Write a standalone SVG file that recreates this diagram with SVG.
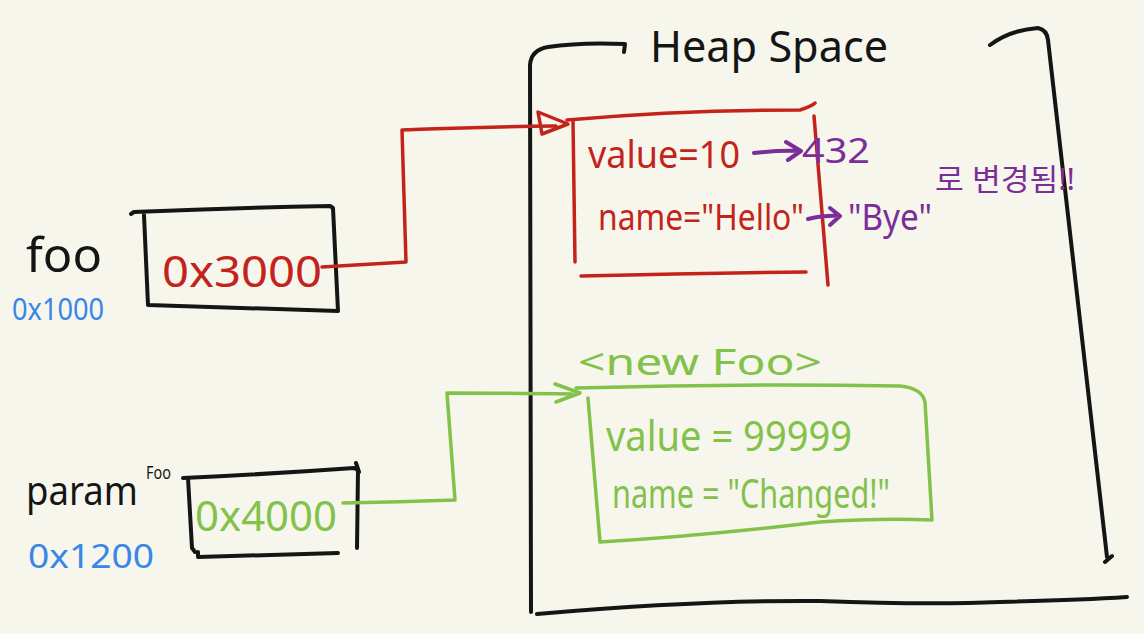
<svg xmlns="http://www.w3.org/2000/svg" width="1144" height="634" viewBox="0 0 1144 634">
<defs>
<style>
.bg{fill:#f7f6ed}
.k{fill:none;stroke:#151515;stroke-width:4;stroke-linecap:round;stroke-linejoin:round}
.r{fill:none;stroke:#c4231b;stroke-width:3.5;stroke-linecap:round;stroke-linejoin:round}
.g{fill:none;stroke:#82c14a;stroke-width:3.5;stroke-linecap:round;stroke-linejoin:round}
.p{fill:none;stroke:#7b2d98;stroke-width:4;stroke-linecap:round;stroke-linejoin:round}
text{font-family:"Noto Sans","Noto Sans CJK KR",sans-serif;font-weight:400}
.tk{fill:#151515}
.tr{fill:#c4231b}
.tg{fill:#82c14a}
.tb{fill:#3a86e8}
.tp{fill:#7b2d98}
</style>
</defs>
<rect class="bg" x="0" y="0" width="1144" height="634"/>

<g id="heap">
<path class="k" d="M531,612 L530,65 Q531,50 548,47 Q580,42 625,44 L624,52"/>
<path class="k" d="M990,45 Q1010,30 1038,28 Q1047,30 1048,40 L1107,557 M1105,562 L1112,556"/>
<path class="k" d="M537,614 Q700,600 820,601 Q930,605 1000,602 Q1080,600 1127,597"/>
<text class="tk" x="650" y="62" font-size="44" textLength="238" lengthAdjust="spacingAndGlyphs">Heap  Space</text>
</g>

<g id="foo">
<text class="tk" x="26" y="272" font-size="48" textLength="76" lengthAdjust="spacingAndGlyphs">foo</text>
<text class="tb" x="12" y="320" font-size="30" textLength="92" lengthAdjust="spacingAndGlyphs">0x1000</text>
<path class="k" d="M131,214 L134,212 Q230,208 330,206 L333,208 L338,311 L148,305 L144,215"/>
<text class="tr" x="162" y="287" font-size="44" textLength="160" lengthAdjust="spacingAndGlyphs">0x3000</text>
</g>

<g id="paramFoo">
<text class="tk" x="26" y="505" font-size="40" textLength="112" lengthAdjust="spacingAndGlyphs">param</text>
<text class="tk" x="146" y="479" font-size="18" textLength="25" lengthAdjust="spacingAndGlyphs">Foo</text>
<text class="tb" x="28" y="568" font-size="32" textLength="126" lengthAdjust="spacingAndGlyphs">0x1200</text>
<path class="k" d="M183,478 Q270,474 354,468 L358,470 L357,548 M356,463 L359,472"/>
<path class="k" d="M188,478 L192,548 L195,552 M198,552 L198,557 Q270,555 338,553"/>
<text class="tg" x="195" y="531" font-size="42" textLength="142" lengthAdjust="spacingAndGlyphs">0x4000</text>
</g>

<g id="oldFoo">
<path class="r" d="M567,120 Q680,110 800,110 Q812,106 815,103"/>
<path class="r" d="M573,120 L575,262"/>
<path class="r" d="M814,116 L828,285"/>
<path class="r" d="M581,276 Q700,273 806,272"/>
<text class="tr" x="588" y="168" font-size="38" textLength="152" lengthAdjust="spacingAndGlyphs">value=10</text>
<text class="tr" x="598" y="230" font-size="36" textLength="206" lengthAdjust="spacingAndGlyphs">name="Hello"</text>
<path class="p" d="M754,153 Q780,150 800,151 M786,142 L801,151 L788,160"/>
<text class="tp" x="802" y="163" font-size="34" textLength="68" lengthAdjust="spacingAndGlyphs">432</text>
<path class="p" d="M808,219 Q825,215 840,216 M830,208 L840,216 L830,225"/>
<text class="tp" x="848" y="230" font-size="36" textLength="84" lengthAdjust="spacingAndGlyphs">"Bye"</text>
<text class="tp" x="935" y="190" font-size="30" textLength="140" lengthAdjust="spacingAndGlyphs">로 변경됨!!</text>
</g>

<g id="newFoo">
<text class="tg" x="578" y="375" font-size="36" textLength="244" lengthAdjust="spacingAndGlyphs">&lt;new Foo&gt;</text>
<path class="g" d="M576,388 Q740,383 900,386 Q922,388 925,402 L932,520 Q880,518 820,522 Q700,536 600,542 L588,398"/>
<text class="tg" x="606" y="451" font-size="42" textLength="246" lengthAdjust="spacingAndGlyphs">value = 99999</text>
<text class="tg" x="612" y="508" font-size="40" textLength="278" lengthAdjust="spacingAndGlyphs">name = "Changed!"</text>
</g>

<g id="connectors">
<path class="r" d="M322,267 Q370,264 406,262 L402,130 Q470,127 556,126"/>
<path class="r" d="M538,112 L568,124 L542,134 Z"/>
<path class="g" d="M343,503 Q400,502 455,500 L447,393 Q500,393 572,394"/>
<path class="g" d="M555,384 L580,393 L556,402"/>
</g>
</svg>
